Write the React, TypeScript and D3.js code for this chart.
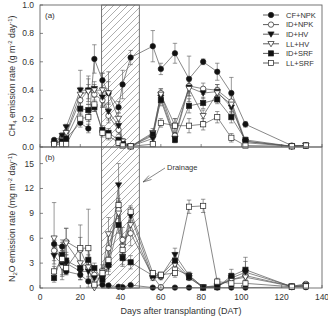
import React from 'react';
import * as d3 from 'd3';

// sampling days after transplanting
const days = [7, 11, 13, 20, 24, 27, 31, 34, 39, 41, 45, 56, 60, 67, 74, 81, 88, 95, 102, 125, 132];
const treatments = ['CF+NPK', 'ID+NPK', 'ID+HV', 'LL+HV', 'ID+SRF', 'LL+SRF'];
const drainage = [30.6, 49.3];

// CH4 flux, g m-2 day-1 (mean and SE)
const ch4CfNpk = [0.05, 0.07, 0.06, 0.17, 0.13, 0.62, 0.47, 0.38, 0.28, 0.44, 0.63, 0.71, 0.55, 0.66, 0.48, 0.60, 0.53, 0.38, 0.16, 0.01, 0.01];
const ch4IdNpk = [0.02, 0.06, 0.09, 0.33, 0.40, 0.37, 0.33, 0.22, 0.12, 0.03, 0.005, 0.08, 0.38, 0.08, 0.43, 0.41, 0.40, 0.32, 0.04, 0.005, 0.01];
const ch4IdHv = [0.02, 0.08, 0.14, 0.40, 0.40, 0.41, 0.35, 0.25, 0.15, 0.02, 0.005, 0.06, 0.35, 0.06, 0.42, 0.38, 0.39, 0.28, 0.04, 0.005, 0.01];
const ch4LlHv = [0.02, 0.05, 0.10, 0.37, 0.39, 0.40, 0.40, 0.38, 0.20, 0.04, 0.005, 0.10, 0.37, 0.15, 0.41, 0.22, 0.38, 0.30, 0.03, 0.005, 0.01];
const ch4IdSrf = [0.02, 0.04, 0.06, 0.27, 0.26, 0.28, 0.12, 0.10, 0.05, 0.02, 0.005, 0.09, 0.33, 0.05, 0.29, 0.31, 0.335, 0.21, 0.05, 0.005, 0.01];
const ch4LlSrf = [0.02, 0.02, 0.02, 0.20, 0.21, 0.30, 0.10, 0.08, 0.03, 0.01, 0.005, 0.02, 0.17, 0.15, 0.15, 0.16, 0.21, 0.065, 0.01, 0.005, 0.01];

const ch4CfNpkSe = [0.01, 0.02, 0.02, 0.03, 0.03, 0.10, 0.05, 0.08, 0.04, 0.10, 0.05, 0.11, 0.04, 0.07, 0.16, 0.02, 0.06, 0.11, 0.02, 0.005, 0.005];
const ch4IdNpkSe = [0.01, 0.02, 0.02, 0.05, 0.08, 0.04, 0.05, 0.05, 0.03, 0.02, 0.005, 0.02, 0.03, 0.02, 0.05, 0.04, 0.04, 0.05, 0.02, 0.005, 0.005];
const ch4IdHvSe = [0.01, 0.02, 0.02, 0.14, 0.10, 0.05, 0.06, 0.06, 0.03, 0.01, 0.005, 0.02, 0.04, 0.02, 0.06, 0.04, 0.05, 0.05, 0.02, 0.005, 0.005];
const ch4LlHvSe = [0.01, 0.02, 0.02, 0.05, 0.05, 0.04, 0.12, 0.15, 0.04, 0.02, 0.005, 0.03, 0.04, 0.05, 0.05, 0.04, 0.04, 0.06, 0.02, 0.005, 0.005];
const ch4IdSrfSe = [0.01, 0.01, 0.02, 0.04, 0.04, 0.03, 0.03, 0.03, 0.02, 0.01, 0.005, 0.02, 0.04, 0.02, 0.05, 0.04, 0.03, 0.04, 0.02, 0.005, 0.005];
const ch4LlSrfSe = [0.01, 0.01, 0.01, 0.04, 0.03, 0.05, 0.03, 0.03, 0.02, 0.01, 0.005, 0.01, 0.03, 0.05, 0.05, 0.04, 0.04, 0.03, 0.01, 0.005, 0.005];

// N2O flux, mg m-2 day-1 (mean and SE)
const n2oCfNpk = [5.3, 5.0, 2.0, 1.6, 0.8, 0.3, 0.4, 0.3, 0.15, 0.1, 0.35, 0.05, 0.05, 0.05, 0.05, 0.05, 0.05, 0.05, 0.05, 0.1, 0.1];
const n2oIdNpk = [4.5, 3.6, 5.6, 4.6, 2.4, 1.6, 1.5, 4.8, 9.4, 5.8, 6.6, 1.4, 0.1, 2.3, 1.5, 0.1, 0.2, 1.0, 1.5, 0.2, 0.5];
const n2oIdHv = [3.9, 2.8, 3.0, 2.0, 2.0, 1.2, 1.2, 2.6, 12.4, 3.8, 8.7, 1.3, 1.4, 4.0, 1.5, 0.1, 0.15, 1.2, 1.9, 0.2, 0.3];
const n2oLlHv = [6.0, 2.5, 5.4, 3.0, 2.5, 0.0, 2.0, 6.5, 9.0, 5.0, 7.6, 1.2, 1.3, 2.8, 1.2, 0.1, 0.3, 1.0, 1.3, 0.2, 0.3];
const n2oIdSrf = [1.2, 4.0, 3.3, 2.4, 3.4, 2.4, 1.0, 2.8, 7.6, 3.6, 3.1, 1.5, 1.5, 3.3, 1.3, 0.05, 0.1, 1.45, 2.2, 0.15, 0.3];
const n2oLlSrf = [2.0, 3.5, 2.4, 4.8, 4.8, 0.4, 1.8, 3.4, 10.0, 4.6, 9.2, 1.8, 1.6, 1.8, 9.8, 9.9, 0.77, 0.56, 0.56, 0.15, 0.2];

const n2oCfNpkSe = [0.5, 0.5, 0.4, 0.3, 0.2, 0.1, 0.1, 0.1, 0.05, 0.05, 0.1, 0.02, 0.02, 0.02, 0.02, 0.02, 0.02, 0.02, 0.02, 0.05, 0.05];
const n2oIdNpkSe = [1.2, 2.2, 1.6, 1.5, 1.0, 0.6, 0.5, 1.5, 1.0, 1.5, 1.5, 0.3, 0.1, 0.5, 0.4, 0.1, 0.1, 0.4, 0.5, 0.1, 0.2];
const n2oIdHvSe = [1.0, 1.2, 1.0, 1.0, 0.8, 0.5, 0.5, 1.0, 2.6, 1.2, 1.0, 0.3, 0.3, 0.8, 0.4, 0.05, 0.1, 0.6, 1.8, 0.1, 0.1];
const n2oLlHvSe = [4.3, 1.5, 1.8, 2.0, 1.5, 0.2, 0.8, 2.0, 1.5, 1.2, 1.3, 0.3, 0.3, 0.6, 0.3, 0.05, 0.1, 0.4, 0.5, 0.1, 0.1];
const n2oIdSrfSe = [0.5, 1.2, 1.0, 0.8, 1.2, 0.6, 0.5, 0.8, 1.0, 0.8, 0.8, 0.3, 0.3, 1.0, 0.3, 0.03, 0.05, 0.8, 1.0, 0.05, 0.1];
const n2oLlSrfSe = [0.6, 1.0, 0.8, 2.8, 4.7, 0.2, 0.6, 1.2, 0.8, 1.2, 0.7, 0.3, 0.3, 0.5, 0.8, 0.8, 0.4, 0.2, 0.3, 0.05, 0.1];

const ch4Ticks = [0, 0.2, 0.4, 0.6, 0.8, 1.0];
const n2oTicks = [0, 3, 6, 9, 12, 15];
const dayTicks = [0, 20, 40, 60, 80, 100, 120, 140];

const ch4Means = [ch4CfNpk, ch4IdNpk, ch4IdHv, ch4LlHv, ch4IdSrf, ch4LlSrf];
const ch4Se = [ch4CfNpkSe, ch4IdNpkSe, ch4IdHvSe, ch4LlHvSe, ch4IdSrfSe, ch4LlSrfSe];
const n2oMeans = [n2oCfNpk, n2oIdNpk, n2oIdHv, n2oLlHv, n2oIdSrf, n2oLlSrf];
const n2oSe = [n2oCfNpkSe, n2oIdNpkSe, n2oIdHvSe, n2oLlHvSe, n2oIdSrfSe, n2oLlSrfSe];

const markerStyle = [
  { shape: 'circle', filled: true },
  { shape: 'circle', filled: false },
  { shape: 'triangle', filled: true },
  { shape: 'triangle', filled: false },
  { shape: 'square', filled: true },
  { shape: 'square', filled: false },
];

const FONT = 'Liberation Sans, Arial, sans-serif';
const INK = '#333';

const x = d3.scaleLinear().domain([0, 140]).range([40, 322]);
const yA = d3.scaleLinear().domain([0, 1]).range([147, 5]);
const yB = d3.scaleLinear().domain([0, 17]).range([288, 147]);

function Marker({ shape, filled, cx, cy }: { shape: string; filled: boolean; cx: number; cy: number }) {
  const p = { fill: filled ? '#111' : '#fff', stroke: '#222', strokeWidth: 0.7 };
  if (shape === 'circle') return <circle cx={cx} cy={cy} r={2.7} {...p} />;
  if (shape === 'square') return <rect x={cx - 2.6} y={cy - 2.6} width={5.2} height={5.2} {...p} />;
  return <polygon points={`${cx - 3.1},${cy - 2.3} ${cx + 3.1},${cy - 2.3} ${cx},${cy + 3}`} {...p} />;
}

function Panel({ y, means, se }: { y: d3.ScaleLinear<number, number>; means: number[][]; se: number[][] }) {
  const line = d3.line<number>().x((_, i) => x(days[i])).y(v => y(v));
  return (
    <g>
      {means.map((m, s) => (
        <path key={'l' + s} d={line(m) || ''} fill="none" stroke="#555" strokeWidth={0.7} />
      ))}
      {means.map((m, s) =>
        m.map((v, i) => {
          const e = se[s][i];
          const cx = x(days[i]);
          const top = y(v + e);
          const bot = y(Math.max(0, v - e));
          return (
            <g key={`e${s}-${i}`} stroke="#555" strokeWidth={0.6}>
              <line x1={cx} x2={cx} y1={top} y2={bot} />
              <line x1={cx - 2.2} x2={cx + 2.2} y1={top} y2={top} />
              <line x1={cx - 2.2} x2={cx + 2.2} y1={bot} y2={bot} />
            </g>
          );
        })
      )}
      {means.map((m, s) =>
        m.map((v, i) => (
          <Marker key={`m${s}-${i}`} {...markerStyle[s]} cx={x(days[i])} cy={y(v)} />
        ))
      )}
    </g>
  );
}

function YAxis({ y, ticks, fmt }: { y: d3.ScaleLinear<number, number>; ticks: number[]; fmt: (v: number) => string }) {
  return (
    <g>
      {ticks.map(t => (
        <g key={t}>
          <line x1={40} x2={43} y1={y(t)} y2={y(t)} stroke="#555" strokeWidth={0.7} />
          <text x={34} y={y(t) + 3} textAnchor="end" fontSize={8.5} fill={INK}>{fmt(t)}</text>
        </g>
      ))}
    </g>
  );
}

export default function App() {
  const [y0, y1] = [yA.range()[1], yB.range()[0]];
  return (
    <svg width={328} height={318} style={{ position: 'absolute', left: 0, top: 0, background: '#fff' }} fontFamily={FONT}>
      <defs>
        <pattern id="hatch" patternUnits="userSpaceOnUse" width={7} height={7}>
          <path d="M-1,1 L1,-1 M0,7 L7,0 M6,8 L8,6" stroke="#777" strokeWidth={0.6} />
        </pattern>
      </defs>

      {/* drainage period */}
      <rect x={x(drainage[0])} y={y0} width={x(drainage[1]) - x(drainage[0])} height={y1 - y0}
        fill="url(#hatch)" stroke="#555" strokeWidth={0.8} />

      <Panel y={yA} means={ch4Means} se={ch4Se} />
      <Panel y={yB} means={n2oMeans} se={n2oSe} />

      {/* frames */}
      <rect x={40} y={yA.range()[1]} width={282} height={yA.range()[0] - yA.range()[1]} fill="none" stroke="#666" strokeWidth={0.9} />
      <rect x={40} y={yB.range()[1]} width={282} height={yB.range()[0] - yB.range()[1]} fill="none" stroke="#666" strokeWidth={0.9} />

      <YAxis y={yA} ticks={ch4Ticks} fmt={d3.format('.1f')} />
      <YAxis y={yB} ticks={n2oTicks} fmt={d3.format('d')} />

      {dayTicks.map(t => (
        <g key={t}>
          <line x1={x(t)} x2={x(t)} y1={yA(0)} y2={yA(0) - 3} stroke="#555" strokeWidth={0.7} />
          <line x1={x(t)} x2={x(t)} y1={yB(0)} y2={yB(0) - 3} stroke="#555" strokeWidth={0.7} />
          <text x={x(t)} y={300} textAnchor="middle" fontSize={8.5} fill={INK}>{t}</text>
        </g>
      ))}

      <text x={45} y={18} fontSize={8} fill={INK}>(a)</text>
      <text x={45} y={160} fontSize={8} fill={INK}>(b)</text>

      <text x={181} y={314} textAnchor="middle" fontSize={9} fill={INK}>Days after transplanting (DAT)</text>

      <text transform={`translate(15,${(yA(0) + yA(1)) / 2}) rotate(-90)`} textAnchor="middle" fontSize={8.8} fill={INK}>
        CH<tspan fontSize={6} dy={2}>4</tspan><tspan dy={-2}> emission rate (g m</tspan>
        <tspan fontSize={6} dy={-3}>-2</tspan><tspan dy={3}> day</tspan>
        <tspan fontSize={6} dy={-3}>-1</tspan><tspan dy={3}>)</tspan>
      </text>
      <text transform={`translate(15,${(yB(0) + yB(17)) / 2}) rotate(-90)`} textAnchor="middle" fontSize={8.8} fill={INK}>
        N<tspan fontSize={6} dy={2}>2</tspan><tspan dy={-2}>O emission rate (mg m</tspan>
        <tspan fontSize={6} dy={-3}>-2</tspan><tspan dy={3}> day</tspan>
        <tspan fontSize={6} dy={-3}>-1</tspan><tspan dy={3}>)</tspan>
      </text>

      {/* legend */}
      {treatments.map((name, i) => {
        const ly = 15 + i * 9.6;
        return (
          <g key={name}>
            <line x1={263} x2={279} y1={ly} y2={ly} stroke="#333" strokeWidth={0.8} />
            <Marker {...markerStyle[i]} cx={271} cy={ly} />
            <text x={286} y={ly + 2.8} fontSize={7.5} fill={INK}>{name}</text>
          </g>
        );
      })}

      {/* drainage annotation */}
      <g stroke="#555" strokeWidth={0.7} fill="none">
        <path d="M165,168 L143,182" />
        <path d="M149,175.5 L143,182 L151.5,179.5" />
      </g>
      <text x={167} y={170} fontSize={7.5} fill={INK}>Drainage</text>
    </svg>
  );
}
